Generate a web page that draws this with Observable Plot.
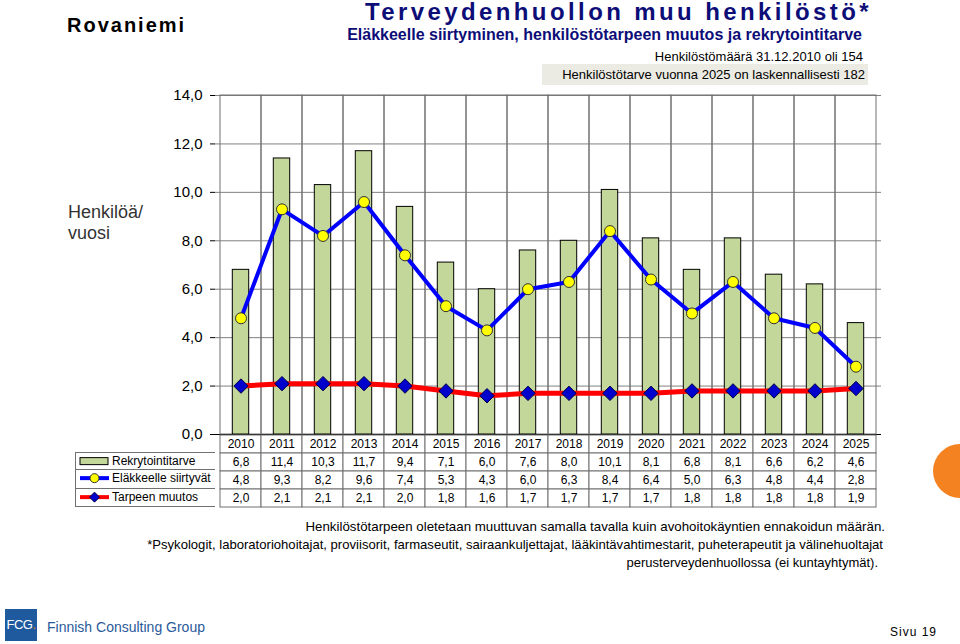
<!DOCTYPE html>
<html><head><meta charset="utf-8">
<script src="https://cdn.jsdelivr.net/npm/d3@7"></script>
<script src="https://cdn.jsdelivr.net/npm/@observablehq/plot@0.6"></script>
<style>
body{margin:0;background:#fff;font-family:"Liberation Sans",Arial,sans-serif;}
#wrap{position:relative;width:960px;height:644px;overflow:hidden;background:#fff;}
.abs{position:absolute;white-space:nowrap;}
#main,#table{position:absolute;left:0;}
#main{top:0;} #table{top:433px;}
</style></head><body><div id="wrap">
<div class="abs" style="left:67px;top:14px;font-size:20px;font-weight:bold;letter-spacing:2px;">Rovaniemi</div>
<div class="abs" style="right:88px;top:0px;font-size:24px;line-height:24px;font-weight:bold;letter-spacing:3.4px;color:#0d0d78;">Terveydenhuollon muu henkilöstö*</div>
<div class="abs" style="right:98px;top:26px;font-size:16px;font-weight:bold;color:#0d0d78;">Eläkkeelle siirtyminen, henkilöstötarpeen muutos ja rekrytointitarve</div>
<div class="abs" style="right:97px;top:49px;font-size:13px;">Henkilöstömäärä 31.12.2010 oli 154</div>
<div class="abs" style="left:542px;top:64px;width:323px;height:21px;line-height:21px;background:#ecebe3;font-size:13px;text-align:right;padding-right:3px;">Henkilöstötarve vuonna 2025 on laskennallisesti 182</div>
<div class="abs" style="left:68px;top:202px;font-size:18px;line-height:21px;color:#333;">Henkilöä/<br>vuosi</div>
<div id="main"></div>
<div id="table"></div>
<div id="legend" class="abs" style="left:75px;top:452px;width:140px;"></div>
<div class="abs" style="right:75px;top:519px;font-size:13.3px;">Henkilöstötarpeen oletetaan muuttuvan samalla tavalla kuin avohoitokäyntien ennakoidun määrän.</div>
<div class="abs" style="right:77px;top:537px;font-size:13.1px;">*Psykologit, laboratoriohoitajat, proviisorit, farmaseutit, sairaankuljettajat, lääkintävahtimestarit, puheterapeutit ja välinehuoltajat</div>
<div class="abs" style="right:82px;top:555px;font-size:13px;">perusterveydenhuollossa (ei kuntayhtymät).</div>
<div class="abs" style="left:5px;top:609px;width:32px;height:32px;background:#1f5a9e;color:#fff;font-size:13px;line-height:32px;text-align:center;letter-spacing:-0.5px;">FCG<span style="color:#f58220">.</span></div>
<div class="abs" style="left:47px;top:619px;font-size:14px;color:#2a5a9a;">Finnish Consulting Group</div>
<div class="abs" style="left:890px;top:625px;font-size:12px;letter-spacing:1px;">Sivu 19</div>
<div class="abs" style="left:933px;top:444px;width:54px;height:54px;border-radius:50%;background:#f58220;"></div>
</div>
<script>
const years = ["2010","2011","2012","2013","2014","2015","2016","2017","2018","2019","2020","2021","2022","2023","2024","2025"];
const rekrytointitarve = [6.8,11.4,10.3,11.7,9.4,7.1,6.0,7.6,8.0,10.1,8.1,6.8,8.1,6.6,6.2,4.6];
const elakkeelleSiirtyvat = [4.8,9.3,8.2,9.6,7.4,5.3,4.3,6.0,6.3,8.4,6.4,5.0,6.3,4.8,4.4,2.8];
const tarpeenMuutos = [2.0,2.1,2.1,2.1,2.0,1.8,1.6,1.7,1.7,1.7,1.7,1.8,1.8,1.8,1.8,1.9];
const yTicks = [0,2,4,6,8,10,12,14];
const seriesNames = ["Rekrytointitarve","Eläkkeelle siirtyvät","Tarpeen muutos"];

const fmt = d => d.toFixed(1).replace(".", ",");
const rows = years.map((y,i)=>({year:y, rekry:rekrytointitarve[i], elak:elakkeelleSiirtyvat[i], muutos:tarpeenMuutos[i]}));
const font = "Liberation Sans, Arial, sans-serif";

const main = Plot.plot({
  width:960, height:437, marginLeft:215, marginRight:79, marginTop:95, marginBottom:3,
  style:{fontFamily:font, fontSize:"15px", color:"#000", background:"transparent", overflow:"visible"},
  x:{type:"band", domain:years, padding:0, axis:null},
  y:{domain:[0,14], axis:null},
  marks:[
    Plot.gridY(yTicks, {stroke:"#808080", strokeOpacity:1}),
    Plot.barY(rows, {x:"year", y1:0, y2:14, fill:"none", stroke:"#707070"}),
    Plot.barY(rows, {x:"year", y:"rekry", fill:"#c4d79b", stroke:"#000", strokeWidth:1, insetLeft:12.3, insetRight:12.3}),
    Plot.ruleY([0], {stroke:"#000"}),
    Plot.line(rows, {x:"year", y:"elak", stroke:"#0000ff", strokeWidth:4}),
    Plot.dot(rows, {x:"year", y:"elak", r:5.5, fill:"#ffff00", stroke:"#333", strokeWidth:1}),
    Plot.line(rows, {x:"year", y:"muutos", stroke:"#ff0000", strokeWidth:5}),
    Plot.dot(rows, {x:"year", y:"muutos", symbol:"diamond2", r:6.5, fill:"#0000cc", stroke:"#000044", strokeWidth:1}),
    Plot.axisY(yTicks, {tickFormat:fmt, tickSize:5, tickPadding:8, fontSize:15, stroke:"#000"})
  ]
});
document.getElementById("main").appendChild(main);

const tableRows = ["Vuosi", ...seriesNames];
const tableData = [];
years.forEach((yr,i)=>{
  tableData.push({year:yr, row:"Vuosi", label:yr});
  tableData.push({year:yr, row:seriesNames[0], label:fmt(rekrytointitarve[i])});
  tableData.push({year:yr, row:seriesNames[1], label:fmt(elakkeelleSiirtyvat[i])});
  tableData.push({year:yr, row:seriesNames[2], label:fmt(tarpeenMuutos[i])});
});
const table = Plot.plot({
  width:960, height:75, marginLeft:215, marginRight:79, marginTop:1, marginBottom:1,
  style:{fontFamily:font, fontSize:"12px", color:"#000", background:"transparent"},
  x:{type:"band", domain:years, padding:0, axis:null},
  y:{type:"band", domain:tableRows, padding:0, axis:null},
  marks:[
    Plot.cell(tableData, {x:"year", y:"row", fill:"#fff", stroke:"#707070"}),
    Plot.text(tableData, {x:"year", y:"row", text:"label", fontSize:12, fill:"#000"})
  ]
});
document.getElementById("table").appendChild(table);

// legend column
const leg = document.getElementById("legend");
const rh = 18.25;
const swatches = [
  `<rect x="4" y="${rh/2-3.5}" width="28" height="7" fill="#c4d79b" stroke="#000"/>`,
  `<line x1="4" x2="33" y1="${rh/2}" y2="${rh/2}" stroke="#0000ff" stroke-width="4"/><circle cx="18.5" cy="${rh/2}" r="4.5" fill="#ffff00" stroke="#333"/>`,
  `<line x1="4" x2="33" y1="${rh/2}" y2="${rh/2}" stroke="#ff0000" stroke-width="4"/><path d="M18.5 ${rh/2-5}L23.5 ${rh/2}L18.5 ${rh/2+5}L13.5 ${rh/2}Z" fill="#0000cc" stroke="#000044"/>`
];
seriesNames.forEach((name,i)=>{
  const d = document.createElement("div");
  d.style.cssText = `position:relative;height:${rh}px;box-sizing:border-box;border:1px solid #707070;border-top:${i===0?"1px solid #707070":"none"};border-right:none;`;
  d.innerHTML = `<svg width="36" height="${rh}" style="position:absolute;left:0;top:-1px">${swatches[i]}</svg><span style="position:absolute;left:36px;top:0;font-size:12px;line-height:${rh-1}px">${name}</span>`;
  leg.appendChild(d);
});
</script>
</body></html>
